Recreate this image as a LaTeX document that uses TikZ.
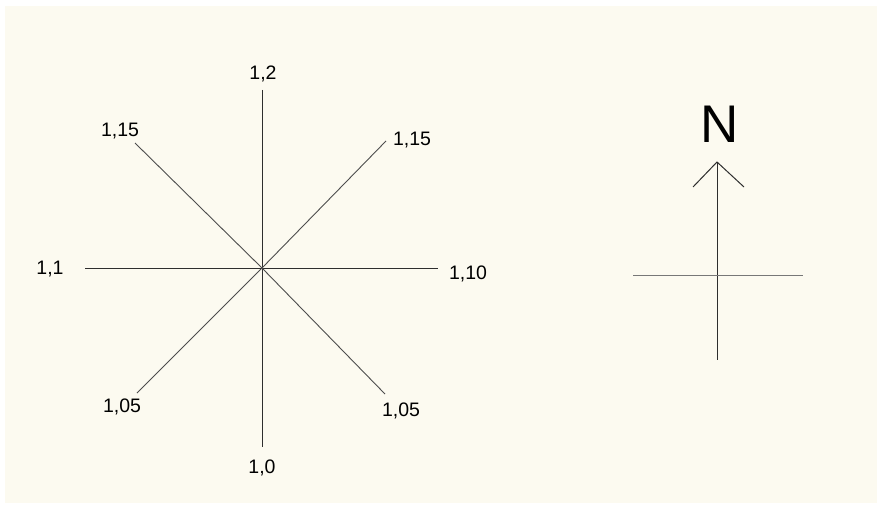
\documentclass[tikz,border=0pt]{standalone}
\usepackage{fontspec}
\setmainfont{Liberation Sans}
\definecolor{paper}{HTML}{FCFAF0}
\definecolor{ink}{HTML}{2E2E2E}
\tikzset{
  ray/.style={draw=ink,line width=1pt},
  diag/.style={draw=ink!85,line width=0.9pt},
  val/.style={anchor=base,inner sep=0pt,font=\fontsize{19.5}{20}\selectfont}
}
\begin{document}
\begin{tikzpicture}[x=1pt,y=-1pt]

\useasboundingbox (0,0) rectangle (877,505);
\fill[white] (0,0) rectangle (877,505);
\fill[paper] (5,6) rectangle (877,503);

% rose centre and ray ends
\coordinate (O) at (262,268);
\coordinate (Nend) at (262,90);
\coordinate (Send) at (262,447);
\coordinate (Wend) at (85,268);
\coordinate (Eend) at (438,268);
\coordinate (NEend) at (386,141);
\coordinate (NWend) at (135,143);
\coordinate (SWend) at (137,393);
\coordinate (SEend) at (385,394);

\node[val]
(n)
at (263,80)
{1,2};

\node[val]
(nw)
at (120,137)
{1,15};

\node[val]
(ne)
at (412,146)
{1,15};

\node[val]
(w)
at (50,274)
{1,1};

\node[val]
(e)
at (468,279)
{1,10};

\node[val]
(sw)
at (122,412)
{1,05};

\node[val]
(se)
at (401,416)
{1,05};

\node[val]
(s)
at (262,473)
{1,0};

\draw[ray]
(Nend)--(Send);

\draw[ray]
(Wend)--(Eend);

\draw[diag]
(O)--(NEend);

\draw[diag]
(O)--(NWend);

\draw[diag]
(O)--(SWend);

\draw[diag]
(O)--(SEend);

% north arrow
\node[anchor=base,inner sep=0pt,font=\fontsize{53}{54}\selectfont]
(north)
at (720,143)
{N};

\coordinate (tip) at (717,162);
\coordinate (foot) at (717,360);
\coordinate (barbL) at (693,187);
\coordinate (barbR) at (744,187);
\coordinate (crossW) at (633,275);
\coordinate (crossE) at (803,275);

\draw[ray]
(tip)--(foot);

\draw[ray]
(barbL)--(tip)--(barbR);

\draw[draw=ink!65,line width=0.9pt]
(crossW)--(crossE);

\end{tikzpicture}
\end{document}
